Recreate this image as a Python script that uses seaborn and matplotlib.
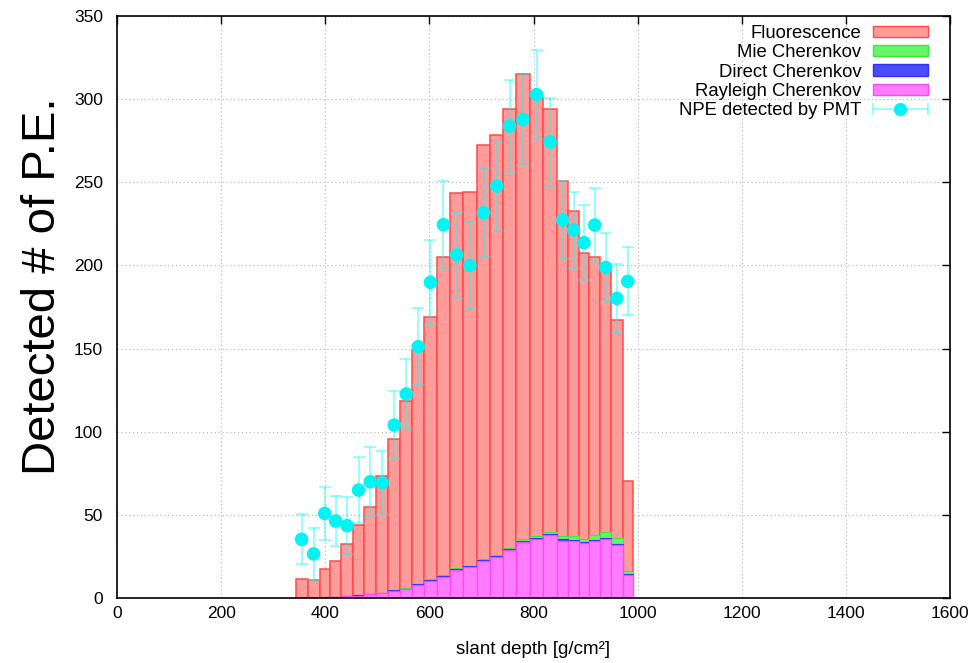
import numpy as np
import pandas as pd
import matplotlib
matplotlib.use("Agg")
import matplotlib.pyplot as plt
import seaborn as sns
from matplotlib.patches import Patch
from matplotlib.container import ErrorbarContainer
from matplotlib.legend_handler import HandlerErrorbar

# ---------------- data ----------------
bin_edges = [343, 366, 389, 409, 431, 453, 475, 498, 521, 544, 567, 590, 614, 640,
             665, 691, 717, 742, 766, 793, 819, 845, 867, 887, 907, 928, 949, 971, 991]

total_pe = [11.2, 11.0, 17.6, 22.4, 32.7, 43.8, 54.6, 73.5, 95.4, 118.5, 149.0, 169.2,
            205.0, 243.7, 244.2, 272.4, 278.4, 293.9, 315.1, 300.5, 293.9, 251.0,
            232.9, 207.6, 204.9, 198.0, 167.2, 70.4]

rayleigh = [0.1, 0.2, 0.3, 0.6, 1.0, 1.4, 2.2, 2.8, 4.2, 5.2, 7.8, 10.3, 12.9, 16.9,
            18.4, 22.0, 24.8, 28.9, 33.9, 35.3, 37.7, 34.5, 34.5, 32.9, 34.5, 35.7,
            31.7, 14.0]
direct = [0.05, 0.05, 0.1, 0.1, 0.15, 0.2, 0.25, 0.3, 0.35, 0.4, 0.45, 0.5, 0.5, 0.55,
          0.55, 0.6, 0.6, 0.6, 0.6, 0.6, 0.6, 0.7, 0.6, 0.6, 0.6, 0.6, 0.8, 0.6]
mie = [0.02, 0.03, 0.05, 0.07, 0.1, 0.12, 0.15, 0.2, 0.25, 0.3, 0.35, 0.4, 0.45, 0.5,
       0.55, 0.6, 0.6, 0.7, 0.8, 1.4, 1.4, 2.0, 2.2, 1.8, 3.0, 3.4, 3.8, 1.6]

npe_pmt = [35.3, 26.5, 50.9, 46.3, 43.5, 64.9, 69.9, 69.3, 104.0, 122.7, 151.1, 189.8,
           224.5, 206.3, 200.0, 231.7, 247.7, 283.8, 287.8, 302.7, 274.2, 227.3, 221.3,
           213.7, 224.3, 198.8, 180.2, 190.4]
npe_err = [15.0, 15.5, 16.0, 15.0, 17.0, 19.6, 20.7, 19.0, 20.7, 21.0, 23.0, 25.4,
           26.0, 26.0, 26.0, 26.6, 26.7, 27.6, 27.0, 26.8, 26.4, 23.3, 22.7, 22.5,
           22.5, 21.0, 20.7, 20.5]

labels = ["Fluorescence", "Mie Cherenkov", "Direct Cherenkov", "Rayleigh Cherenkov",
          "NPE detected by PMT"]

# ---------------- derived ----------------
edges = [float(e) for e in bin_edges]
centers = [0.5 * (a + b) for a, b in zip(edges[:-1], edges[1:])]
R = np.array(rayleigh)
D = np.array(direct)
M = np.array(mie)
T = np.array(total_pe)
fluor = T - (R + D + M)

df = pd.DataFrame({
    "depth": centers,
    "Fluorescence": fluor,
    "Mie": M,
    "Direct": D,
    "Rayleigh": R,
    "npe": npe_pmt,
    "err": npe_err,
})
df["cum_all"] = df["Fluorescence"] + df["Mie"] + df["Direct"] + df["Rayleigh"]
df["cum_mie"] = df["Mie"] + df["Direct"] + df["Rayleigh"]
df["cum_dir"] = df["Direct"] + df["Rayleigh"]
df["cum_ray"] = df["Rayleigh"]

# ---------------- style ----------------
sns.set_style("white")
plt.rcParams["font.family"] = ["Liberation Sans", "DejaVu Sans"]
plt.rcParams["text.color"] = "black"
plt.rcParams["axes.labelcolor"] = "black"
plt.rcParams["xtick.color"] = "black"
plt.rcParams["ytick.color"] = "black"

fig = plt.figure(figsize=(9.8, 6.63), dpi=100)
ax = fig.add_axes([117 / 980, 1 - 598 / 663, 833 / 980, 582 / 663])

fc_fl, ec_fl = "#ff9b99", "#ff4a4a"
fc_mie, ec_mie = "#66f566", "#3fe63f"
fc_dir, ec_dir = "#4b4bff", "#3030ff"
fc_ray, ec_ray = "#ff7bff", "#ff45ff"
cyan = "#00f4f4"

# stacked components drawn as cumulative layers (top of stack first)
layers = [
    ("cum_all", fc_fl, ec_fl, 1.1),
    ("cum_mie", fc_mie, ec_mie, 0.8),
    ("cum_dir", fc_dir, ec_dir, 0.8),
    ("cum_ray", fc_ray, ec_ray, 0.9),
]
for col, fc, ec, lw in layers:
    sns.histplot(data=df, x="depth", weights=col, bins=edges, ax=ax, color=fc,
                 edgecolor=ec, linewidth=lw, alpha=1.0, legend=False, zorder=2)

# PMT points with error bars
ax.errorbar(df["depth"], df["npe"], yerr=df["err"], fmt="none",
            ecolor=(0.0, 1.0, 1.0, 0.42), elinewidth=1.4, capsize=4, capthick=1.4,
            zorder=3)
sns.scatterplot(data=df, x="depth", y="npe", ax=ax, s=95, color=cyan,
                edgecolor="none", linewidth=0, zorder=4, legend=False)

# legend proxy for errorbar entry
eb_proxy = ax.errorbar([np.nan], [np.nan], xerr=[1.0], fmt="o", color=cyan,
                       ms=9.5, mec="none", ecolor=(0.0, 1.0, 1.0, 0.42),
                       elinewidth=1.4, capsize=4, capthick=1.4)

handles = [
    Patch(facecolor=fc_fl, edgecolor=ec_fl, linewidth=1.0),
    Patch(facecolor=fc_mie, edgecolor=ec_mie, linewidth=1.0),
    Patch(facecolor=fc_dir, edgecolor=ec_dir, linewidth=1.0),
    Patch(facecolor=fc_ray, edgecolor=ec_ray, linewidth=1.0),
    eb_proxy,
]
ax.legend(handles, labels, loc="upper right", bbox_to_anchor=(0.9736, 0.985),
          frameon=False, markerfirst=False, fontsize=13.3, handlelength=3.0,
          handleheight=0.55, labelspacing=0.13, handletextpad=0.6, borderpad=0,
          borderaxespad=0, labelcolor="black",
          handler_map={ErrorbarContainer: HandlerErrorbar(xerr_size=1.5)})

# axes
ax.set_xlim(0, 1600)
ax.set_ylim(0, 350)
ax.set_xticks(np.arange(0, 1601, 200))
ax.set_yticks(np.arange(0, 351, 50))
ax.tick_params(direction="in", length=6, width=1, top=True, right=True,
               labelsize=12.5, colors="black")
ax.tick_params(axis="x", pad=6)
ax.tick_params(axis="y", pad=10)
ax.set_axisbelow(True)
ax.grid(True, linestyle=(0, (1, 2.5)), color="#b3b3b3", linewidth=0.8)
for s in ax.spines.values():
    s.set_visible(True)
    s.set_color("black")
    s.set_linewidth(1.2)

ax.set_xlabel("slant depth [g/cm²]", fontsize=13.5, labelpad=14, color="black")
ax.set_ylabel("")
fig.text(0.0435, 0.568, "Detected # of P.E.", rotation=90, fontsize=34,
         ha="center", va="center", color="black")

fig.savefig("out.png", dpi=100)
